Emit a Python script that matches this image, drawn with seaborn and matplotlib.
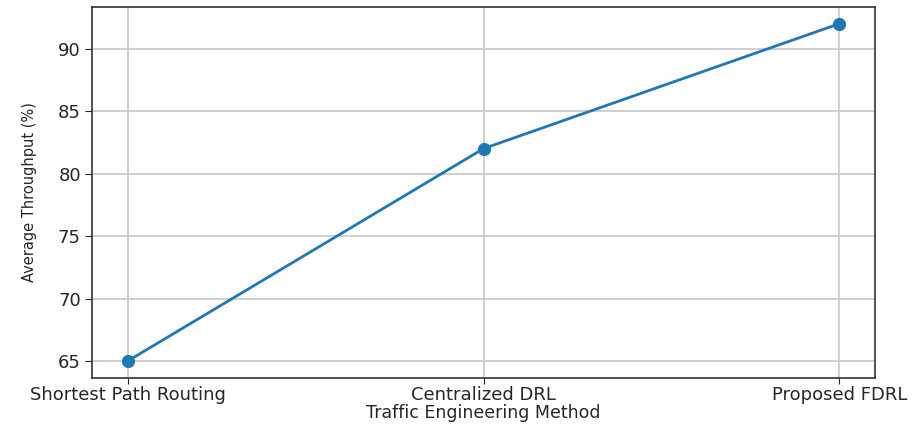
import matplotlib
matplotlib.use("Agg")
import matplotlib.pyplot as plt
from matplotlib import font_manager
import seaborn as sns
import pandas as pd

# data
methods = ["Shortest Path Routing", "Centralized DRL", "Proposed FDRL"]
throughput = [65, 82, 92]

df = pd.DataFrame({"method": methods, "throughput": throughput})

plt.rcParams['font.family'] = ['DejaVu Sans']

# narrow font for the y label, if one is around
names = {f.name for f in font_manager.fontManager.ttflist}
if "Liberation Sans Narrow" in names:
    ylab_font = dict(family=["Liberation Sans Narrow", "DejaVu Sans"], fontsize=13)
else:
    ylab_font = dict(family=["DejaVu Sans"], fontsize=10.5)

fig = plt.figure(figsize=(9.21, 4.26), dpi=100)
ax = fig.add_axes([0.1, 0.113, 0.85, 0.871])

sns.lineplot(data=df, x="method", y="throughput", marker="o", markersize=9.5,
             markeredgewidth=0, color="#1f77b4", linewidth=2, sort=False, ax=ax)

ax.set_xmargin(0.05)
ax.grid(True, color="#cccccc", linewidth=1.3)
ax.set_axisbelow(True)
ax.set_yticks([65, 70, 75, 80, 85, 90])
ax.tick_params(axis="x", labelsize=13, colors="#262626", length=4.5, pad=1.5)
ax.tick_params(axis="y", labelsize=13, colors="#262626", length=5, pad=3)
for s in ax.spines.values():
    s.set_color("#333333")
    s.set_linewidth(1.2)

ax.set_xlabel("Traffic Engineering Method", fontsize=12.5, color="#262626", labelpad=0)
ax.set_ylabel("Average Throughput (%)", color="#262626", labelpad=15, **ylab_font)

fig.savefig("out.png", dpi=100)
